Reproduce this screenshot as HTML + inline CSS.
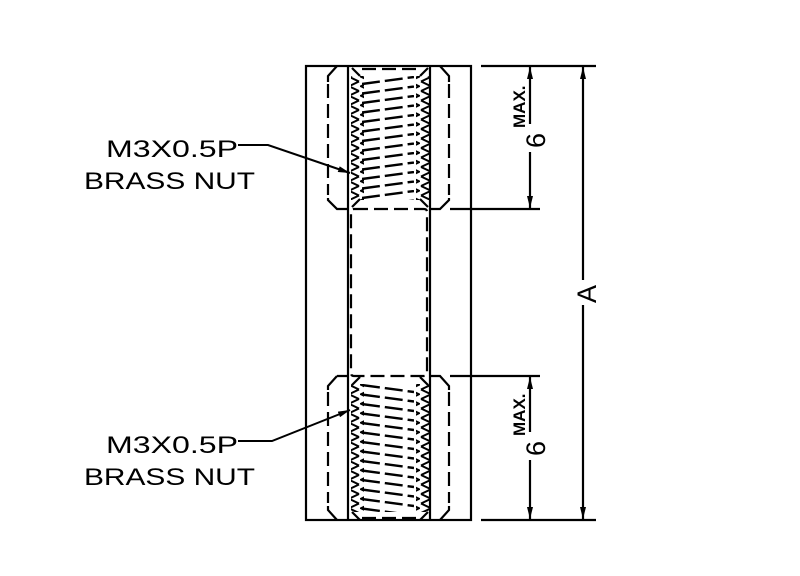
<!DOCTYPE html>
<html><head><meta charset="utf-8"><style>
html,body{margin:0;padding:0;background:#fff;}
svg{display:block}
text{font-family:"Liberation Sans",sans-serif;fill:#000}
</style></head><body>
<svg width="800" height="576" viewBox="0 0 800 576" xmlns="http://www.w3.org/2000/svg">
<defs>
<pattern id="zl" x="0" y="72" width="12" height="9.5" patternUnits="userSpaceOnUse">
<path d="M11,0 L1,4.75 L11,9.5" fill="none" stroke="#000" stroke-width="2"/></pattern>
<pattern id="zr" x="0" y="72" width="12" height="9.5" patternUnits="userSpaceOnUse">
<path d="M1,0 L11,4.75 L1,9.5" fill="none" stroke="#000" stroke-width="2"/></pattern>
<pattern id="zl2" x="0" y="380" width="12" height="9.5" patternUnits="userSpaceOnUse">
<path d="M11,0 L1,4.75 L11,9.5" fill="none" stroke="#000" stroke-width="2"/></pattern>
<pattern id="zr2" x="0" y="380" width="12" height="9.5" patternUnits="userSpaceOnUse">
<path d="M1,0 L11,4.75 L1,9.5" fill="none" stroke="#000" stroke-width="2"/></pattern>
<pattern id="sl" x="0" y="76" width="60" height="9.5" patternUnits="userSpaceOnUse">
<path d="M4,8 L56,1" fill="none" stroke="#000" stroke-width="2.4" stroke-dasharray="18 5"/></pattern>
<pattern id="sl2" x="0" y="384" width="60" height="9.5" patternUnits="userSpaceOnUse">
<path d="M4,1 L56,8" fill="none" stroke="#000" stroke-width="2.4" stroke-dasharray="18 5"/></pattern>
<marker id="ar" viewBox="0 0 12 6" refX="12" refY="3" markerWidth="12" markerHeight="6" markerUnits="userSpaceOnUse" orient="auto"><path d="M0,0 L12,3 L0,6z" fill="#000"/></marker>
</defs>
<g stroke="#000" stroke-width="2.2" fill="none">
<rect x="306" y="66" width="165" height="454"/>
<line x1="348" y1="66" x2="348" y2="520"/>
<line x1="430" y1="66" x2="430" y2="520"/>
<!-- hex dashed -->
<line x1="328" y1="84" x2="328" y2="195" stroke-dasharray="14 6"/>
<line x1="449" y1="84" x2="449" y2="195" stroke-dasharray="14 6"/>
<line x1="328" y1="392" x2="328" y2="503" stroke-dasharray="14 6"/>
<line x1="449" y1="392" x2="449" y2="503" stroke-dasharray="14 6"/>
<path d="M337,66 L328,76 L328,82 M328,198 L328,200 L337,209 L348,209 M440,66 L449,76 L449,82 M449,198 L449,200 L440,209 L430,209"/>
<path d="M337,376 L348,376 M337,376 L328,386 L328,390 M328,506 L328,510 L337,520 M430,376 L440,376 L449,386 L449,390 M449,506 L449,510 L440,520"/>
<line x1="450" y1="209" x2="540" y2="209"/>
<line x1="450" y1="376" x2="540" y2="376"/>
<!-- middle dashed bore -->
<path d="M354,209 L424,209 Q427,209 427,212 L427,373 Q427,376 424,376 L354,376 Q351,376 351,373 L351,212 Q351,209 354,209" stroke-dasharray="14 6"/>
<path d="M352,68 L360,76 M428,68 L420,76 M352,207 L360,199 M428,207 L420,199"/>
<path d="M352,385 L360,377 M428,385 L420,377 M352,512 L360,520 M428,512 L420,520"/>
<line x1="362" y1="69" x2="418" y2="69" stroke-dasharray="14 6"/>
<line x1="362" y1="518" x2="418" y2="518" stroke-dasharray="14 6"/>
</g>
<rect x="351" y="76" width="13" height="124" fill="url(#zl)"/>
<rect x="416" y="76" width="13" height="124" fill="url(#zr)"/>
<rect x="364" y="76" width="52" height="124" fill="url(#sl)" transform="translate(-2,0)"/>
<rect x="351" y="384" width="13" height="128" fill="url(#zl2)"/>
<rect x="416" y="384" width="13" height="128" fill="url(#zr2)"/>
<rect x="364" y="384" width="52" height="128" fill="url(#sl2)" transform="translate(-2,0)"/>
<g stroke="#000" stroke-width="2.2" fill="none">
<line x1="481" y1="66" x2="596" y2="66"/>
<line x1="481" y1="520" x2="596" y2="520"/>
<line x1="530" y1="124" x2="530" y2="67" marker-end="url(#ar)"/>
<line x1="530" y1="152" x2="530" y2="208" marker-end="url(#ar)"/>
<line x1="530" y1="432" x2="530" y2="377" marker-end="url(#ar)"/>
<line x1="530" y1="460" x2="530" y2="519" marker-end="url(#ar)"/>
<line x1="583" y1="280" x2="583" y2="67" marker-end="url(#ar)"/>
<line x1="583" y1="305" x2="583" y2="519" marker-end="url(#ar)"/>
<polyline points="238,145 268,145 350,173" marker-end="url(#ar)" stroke-width="2"/>
<polyline points="238,441 272,441 350,410" marker-end="url(#ar)" stroke-width="2"/>
</g>
<g font-size="24">
<text transform="translate(545,148) rotate(-90)" font-size="27">6</text>
<text transform="translate(525,128) rotate(-90)" font-size="17" font-weight="bold">MAX.</text>
<text transform="translate(545,456) rotate(-90)" font-size="27">6</text>
<text transform="translate(525,436) rotate(-90)" font-size="17" font-weight="bold">MAX.</text>
<text transform="translate(596,303) rotate(-90)" font-size="27">A</text>
<text x="106" y="157" textLength="132" lengthAdjust="spacingAndGlyphs">M3X0.5P</text>
<text x="84" y="189" textLength="171" lengthAdjust="spacingAndGlyphs">BRASS  NUT</text>
<text x="106" y="453" textLength="132" lengthAdjust="spacingAndGlyphs">M3X0.5P</text>
<text x="84" y="485" textLength="171" lengthAdjust="spacingAndGlyphs">BRASS  NUT</text>
</g>
</svg>
</body></html>
